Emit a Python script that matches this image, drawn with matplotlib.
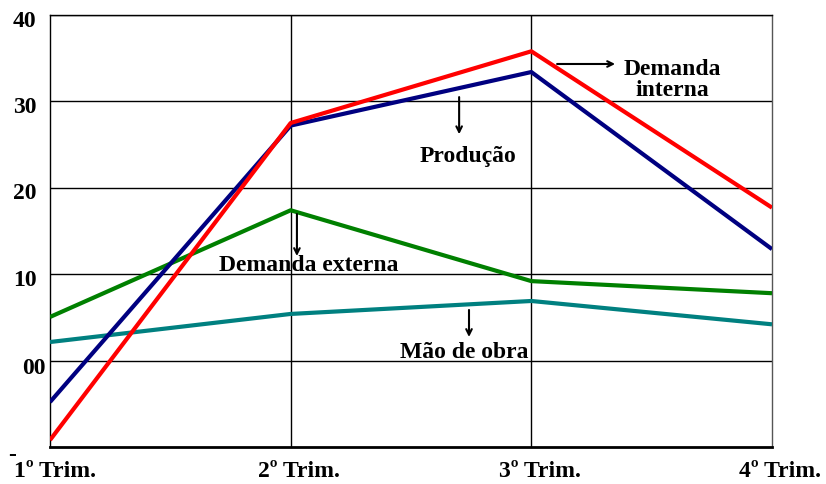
import matplotlib
matplotlib.use("Agg")
import matplotlib.pyplot as plt
from matplotlib.transforms import blended_transform_factory

# Quarterly series
quarters = ["1º Trim.", "2º Trim.", "3º Trim.", "4º Trim."]
demanda_interna = [-9.2, 27.5, 35.8, 17.7]
producao = [-4.8, 27.2, 33.4, 12.9]
demanda_externa = [5.05, 17.4, 9.2, 7.8]
mao_de_obra = [2.15, 5.4, 6.9, 4.2]

y_ticks = [-10, 0, 10, 20, 30, 40]
y_labels = ["-", "00", "10", "20", "30", "40"]

plt.rcParams["font.family"] = ["Liberation Serif", "DejaVu Serif"]
plt.rcParams["font.weight"] = "bold"

fig = plt.figure(figsize=(8.26, 4.85), dpi=100)
ax = fig.add_axes([50 / 826, 1 - 448 / 485, 722 / 826, 432 / 485])

x = list(range(len(quarters)))
lw = 3.0
ax.plot(x, mao_de_obra, color="#008080", lw=lw, solid_capstyle="butt", zorder=3)
ax.plot(x, demanda_externa, color="#008000", lw=lw, solid_capstyle="butt", zorder=3)
ax.plot(x, producao, color="#000080", lw=lw, solid_capstyle="butt", zorder=4)
ax.plot(x, demanda_interna, color="#ff0000", lw=lw, solid_capstyle="butt", zorder=5)

ax.set_xlim(0, 3)
ax.set_ylim(-10, 40)
ax.set_xticks([])
ax.set_yticks([])

# grid lines
for yv in [0, 10, 20, 30, 40]:
    ax.axhline(yv, color="black", lw=1.0, zorder=1)
for xv in [1, 2]:
    ax.axvline(xv, color="black", lw=1.0, zorder=1)

for side in ["left", "right", "top"]:
    ax.spines[side].set_linewidth(1.0)
ax.spines["right"].set_color("#555555")
ax.spines["bottom"].set_linewidth(2.0)

fs = 17

# y labels
ty = blended_transform_factory(fig.transFigure, ax.transData)
for yv, lab in zip(y_ticks, y_labels):
    if lab == "-":
        ax.text(8 / 826, yv - 0.9, lab, transform=ty, ha="left", va="center",
                fontsize=fs, fontweight="bold")
    elif lab == "00":
        ax.text(46 / 826, yv - 0.75, lab, transform=ty, ha="right", va="center",
                fontsize=fs, fontweight="bold")
    else:
        ax.text(13 / 826, yv - 0.6, lab, transform=ty, ha="left", va="center",
                fontsize=fs, fontweight="bold")

# x labels
tx = blended_transform_factory(ax.transData, fig.transFigure)
for xv, lab in zip(x, quarters):
    ax.text(xv + 0.02 + (0.015 if xv else 0), 1 - 472 / 485, lab, transform=tx,
            ha="center", va="center", fontsize=fs, fontweight="bold")

arrow = dict(arrowstyle="->", color="black", lw=1.5, shrinkA=0, shrinkB=0,
             mutation_scale=10)

# series annotations
ax.annotate("", xy=(2.348, 34.33), xytext=(2.107, 34.33), arrowprops=arrow)
ax.text(2.584, 32.6, "Demanda\ninterna", ha="center", va="center",
        fontsize=fs, fontweight="bold", linespacing=1.0)

ax.annotate("", xy=(1.70, 26.2), xytext=(1.70, 30.5), arrowprops=arrow)
ax.text(1.737, 23.7, "Produção", ha="center", va="center",
        fontsize=fs, fontweight="bold")

ax.annotate("", xy=(1.026, 12.1), xytext=(1.026, 16.97), arrowprops=arrow)
ax.text(1.076, 11.1, "Demanda externa", ha="center", va="center",
        fontsize=fs, fontweight="bold")

ax.annotate("", xy=(1.741, 2.73), xytext=(1.741, 5.86), arrowprops=arrow)
ax.text(1.72, 1.0, "Mão de obra", ha="center", va="center",
        fontsize=fs, fontweight="bold")

fig.savefig("out.png", dpi=100)
